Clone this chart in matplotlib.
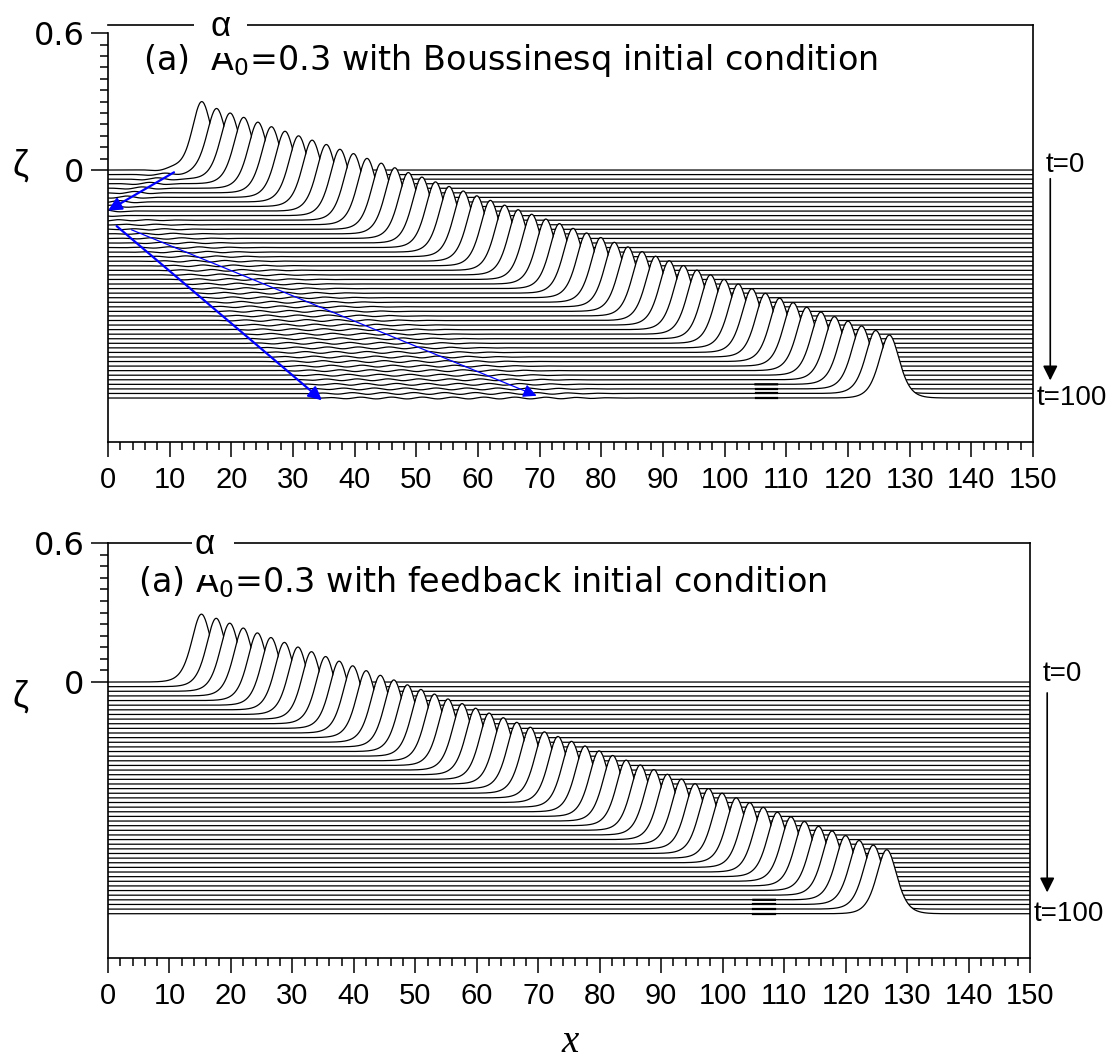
import numpy as np
import matplotlib
matplotlib.use("Agg")
import matplotlib.pyplot as plt
from matplotlib.patches import Rectangle
from matplotlib.ticker import MultipleLocator, FixedLocator

plt.rcParams["font.family"] = ["Liberation Sans", "DejaVu Sans"]
plt.rcParams["mathtext.fontset"] = "dejavusans"

# time levels (one curve each, t = 0 .. 100)
times = list(range(0, 101, 2))

# soliton crest position for each time level
peak_x = [15.2, 17.6, 19.8, 22.0, 24.3, 26.5, 28.7, 30.9, 33.1, 35.4,
          37.6, 39.8, 42.0, 44.3, 46.5, 48.7, 50.9, 53.1, 55.3, 57.6,
          59.8, 62.0, 64.3, 66.5, 68.7, 71.0, 73.2, 75.4, 77.6, 79.9,
          82.1, 84.3, 86.6, 88.8, 91.0, 93.3, 95.5, 97.7, 99.9, 102.2,
          104.4, 106.6, 108.9, 111.1, 113.3, 115.6, 117.8, 120.0, 122.2, 124.5,
          126.7]

# crest heights above each baseline
amp_top = [0.300, 0.290, 0.290, 0.291, 0.290, 0.290, 0.290, 0.290, 0.291, 0.292,
           0.291, 0.292, 0.291, 0.290, 0.290, 0.289, 0.289, 0.288, 0.288, 0.288,
           0.287, 0.287, 0.286, 0.286, 0.286, 0.285, 0.285, 0.284, 0.284, 0.284,
           0.283, 0.283, 0.282, 0.282, 0.282, 0.281, 0.281, 0.280, 0.280, 0.280,
           0.279, 0.279, 0.278, 0.278, 0.278, 0.277, 0.277, 0.277, 0.276, 0.276,
           0.276]
amp_bottom = [0.293, 0.295, 0.294, 0.293, 0.292, 0.292, 0.291, 0.291, 0.291, 0.290,
              0.290, 0.290, 0.289, 0.289, 0.289, 0.288, 0.288, 0.288, 0.287, 0.287,
              0.287, 0.286, 0.286, 0.286, 0.285, 0.285, 0.285, 0.284, 0.284, 0.283,
              0.283, 0.283, 0.282, 0.282, 0.282, 0.281, 0.281, 0.280, 0.280, 0.280,
              0.279, 0.279, 0.278, 0.278, 0.278, 0.277, 0.277, 0.277, 0.276, 0.276,
              0.276]

offset_per_t = 0.01          # vertical shift of each curve per time unit
ripple_amp = [0.004, 0.0]    # dispersive tail (Boussinesq start only)

titles = ["(a)  A$_0$=0.3 with Boussinesq initial condition",
          "(a) A$_0$=0.3 with feedback initial condition"]

# blue arrows in panel (a): (start x, start zeta) -> (end x, end zeta)
blue_arrows = [((10.7, -0.01), (0.0, -0.178), 1.6),
               ((1.4, -0.246), (34.7, -1.01), 1.6),
               ((3.8, -0.262), (69.5, -0.99), 0.9)]

x = np.linspace(0, 150, 1501)


def ripple(x, t, a):
    if a == 0:
        return np.zeros_like(x)
    c1 = 10.5 - 0.62 * t
    w1 = 1.5 * a * np.exp(-((x - c1) / 3.5) ** 2) * np.cos(2 * np.pi * (x - c1) / 6.0)
    s = max(t - 20, 0)
    lo, hi = 0.45 * s, 0.9 * s + 6
    env = 1 / (1 + np.exp(-(x - lo) / 2.0)) / (1 + np.exp((x - hi) / 3.0))
    w2 = a * env * np.cos(2 * np.pi * (x - 0.7 * s) / 5.0) * (s > 0)
    return w1 + w2


fig = plt.figure(figsize=(11.17, 10.61), dpi=100)
ax_top = fig.add_axes([0.0967, 0.5834, 0.8281, 0.3930])
ax_bot = fig.add_axes([0.0967, 0.0971, 0.8254, 0.3911])

panels = [(ax_top, amp_top, (-1.193, 0.636), ripple_amp[0]),
          (ax_bot, amp_bottom, (-1.191, 0.600), ripple_amp[1])]

for i, (ax, amps, ylim, ra) in enumerate(panels):
    ax.set_xlim(0, 150)
    ax.set_ylim(*ylim)

    # waterfall with hidden lines: each later curve hides what lies under it
    for k, t in enumerate(times):
        base = -offset_per_t * t
        a = amps[k]
        kk = np.sqrt(0.75 * a)
        y = base + a / np.cosh(kk * (x - peak_x[k])) ** 2 + ripple(x, t, ra)
        ax.fill_between(x, y, ylim[0], color="white", lw=0, zorder=1 + 0.01 * k)
        ax.plot(x, y, color="black", lw=0.9, zorder=1.005 + 0.01 * k)
        if k >= 47:
            seg = (x >= 105.0) & (x <= 108.5)
            ax.plot(x[seg], y[seg], color="black", lw=1.6, zorder=1.006 + 0.01 * k)

    for sp in ["left", "right", "top", "bottom"]:
        ax.spines[sp].set_linewidth(1.2)
        ax.spines[sp].set_zorder(5)
    ax.spines["left"].set_bounds(ylim[0], 0.6)

    ax.yaxis.set_major_locator(FixedLocator([0, 0.6]))
    ax.yaxis.set_minor_locator(FixedLocator(np.arange(0.05, 0.58, 0.05)))
    ax.set_yticklabels(["0", "0.6"], family="DejaVu Sans", fontsize=23)
    ax.xaxis.set_major_locator(MultipleLocator(10))
    ax.xaxis.set_minor_locator(MultipleLocator(2))
    ax.tick_params(which="both", direction="out", width=1.1, top=False, right=False)
    ax.tick_params(axis="x", labelsize=21)
    ax.tick_params(axis="y", which="major", length=12, pad=5)
    ax.tick_params(axis="y", which="minor", length=6)
    ax.tick_params(axis="x", which="major", length=11, pad=6)
    ax.tick_params(axis="x", which="minor", length=6)

    # time labels and arrow on the right
    ax.text(152.0, -0.035 if i == 0 else -0.02, "t=0", fontsize=20, ha="left",
            va="bottom", clip_on=False)
    ax.text(150.6, -1.0, "t=100", fontsize=20, ha="left", va="center", clip_on=False)
    ax.annotate("", xy=(152.8, -0.935 if i == 0 else -0.92),
                xytext=(152.8, -0.026 if i == 0 else -0.035),
                arrowprops=dict(arrowstyle="-|>", color="black", lw=1.2,
                                mutation_scale=22),
                annotation_clip=False)

for (p0, p1, lw) in blue_arrows:
    ax_top.annotate("", xy=p1, xytext=p0,
                    arrowprops=dict(arrowstyle="-|>", color="blue", lw=lw,
                                    mutation_scale=20, shrinkA=0, shrinkB=0),
                    zorder=10)

# titles, alpha markers on the top frame, axis symbols
W, H = 1117.0, 1061.0
fig.text(143 / W, 1 - 70 / H, titles[0], fontsize=24, family="DejaVu Sans",
         ha="left", va="baseline", zorder=3)
fig.text(138 / W, 1 - 592 / H, titles[1], fontsize=24, family="DejaVu Sans",
         ha="left", va="baseline", zorder=3)

# white box behind alpha (it also clips the top of the "A")
for (x0, y0, x1, y1) in [(194, 10, 247, 53), (192, 528, 234, 575)]:
    fig.patches.append(Rectangle((x0 / W, 1 - y1 / H), (x1 - x0) / W, (y1 - y0) / H,
                                 transform=fig.transFigure, facecolor="white",
                                 edgecolor="none", zorder=4))
for (px, py) in [(221, 27), (205, 545)]:
    fig.text(px / W, 1 - py / H, "α", fontsize=25, ha="center", va="center", zorder=5)

fig.text(20 / W, 1 - 166 / H, "ζ", fontsize=26, ha="center", va="center")
fig.text(20 / W, 1 - 697 / H, "ζ", fontsize=26, ha="center", va="center")
fig.text(570 / W, 1 - 1043 / H, "x", fontsize=28, ha="center", va="center",
         family="Liberation Serif", style="italic")

fig.savefig("out.png", dpi=100)
